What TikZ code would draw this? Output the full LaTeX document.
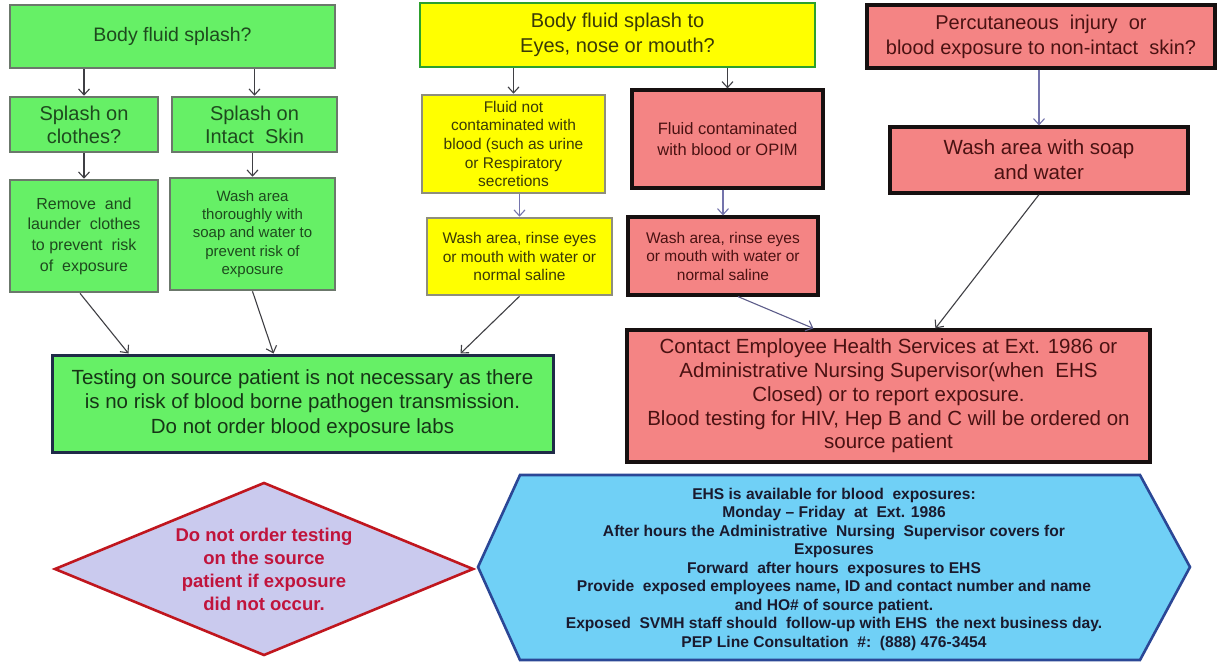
\documentclass[tikz,border=0pt]{standalone}
\usepackage{fontspec}
\setmainfont{Liberation Sans}
\usetikzlibrary{arrows.meta,calc}

\definecolor{gfill}{HTML}{66F066}
\definecolor{gedge}{HTML}{6B786B}
\definecolor{gtext}{HTML}{1E4A1E}
\definecolor{ttext}{HTML}{163516}
\definecolor{navy}{HTML}{1F2B47}
\definecolor{yfill}{HTML}{FFFF00}
\definecolor{yedge}{HTML}{8E8E7C}
\definecolor{ytop}{HTML}{2DA02D}
\definecolor{ytext}{HTML}{3A3A08}
\definecolor{rfill}{HTML}{F48484}
\definecolor{redge}{HTML}{161010}
\definecolor{rtext}{HTML}{4A1212}
\definecolor{dfill}{HTML}{CACAEE}
\definecolor{dedge}{HTML}{C0161E}
\definecolor{dtext}{HTML}{C0143C}
\definecolor{hfill}{HTML}{70D0F6}
\definecolor{hedge}{HTML}{2B4796}
\definecolor{htext}{HTML}{1A1A2E}
\definecolor{arrdark}{HTML}{3F3F44}
\definecolor{arrblue}{HTML}{7474AC}

\begin{document}
\begin{tikzpicture}[x=1pt,y=-1pt,
  every node/.style={inner sep=0pt, align=center},
  fsz/.style 2 args={font=\fontsize{#1}{#2}\selectfont},
  bfsz/.style 2 args={font=\fontsize{#1}{#2}\selectfont\bfseries},
  box/.style={rectangle, line width=2.6pt},
  gbox/.style={box, draw=gedge, fill=gfill, text=gtext},
  ybox/.style={box, draw=yedge, fill=yfill, text=ytext},
  rbox/.style={box, line width=3.2pt, draw=redge, fill=rfill, text=rtext},
  arr/.style={-{Straight Barb[length=6pt,width=11pt]}, line width=1.1pt, draw=arrdark},
  barr/.style={arr, draw=arrblue},
]
\useasboundingbox[fill=white] (0,0) rectangle (1219,662);

% --- general body fluid splash branch
\node[gbox, minimum width=325, minimum height=63, fsz={19.5}{24}] (bfs) at (172.5,36.5) {Body fluid splash?};
\node[gbox, minimum width=148, minimum height=55, fsz={20}{23}] (soc) at (84,124.5) {Splash on\\clothes?};
\node[gbox, minimum width=165, minimum height=55, fsz={20}{23}] (sis) at (254.5,124.5) {Splash on\\Intact\ \ Skin};
\node[gbox, minimum width=148, minimum height=112, fsz={16}{20.7}] (rem) at (84,236)
  {Remove\ \ and\\launder\ \ clothes\\to prevent\ \ risk\\of\ \ exposure};
\node[gbox, minimum width=165, minimum height=112, fsz={15}{18.3}] (wat) at (252.5,234)
  {Wash area\\thoroughly with\\soap and water to\\prevent risk of\\exposure};

% --- eyes, nose or mouth branch
\node[box, draw=ytop, fill=yfill, text=ytext, minimum width=395, minimum height=64, fsz={20}{25}] (ye) at (617.5,35)
  {Body fluid splash to\\Eyes, nose or mouth?};
\node[ybox, minimum width=183, minimum height=98, fsz={15.5}{18.7}] (fnc) at (513.5,144)
  {Fluid not\\contaminated with\\blood (such as urine\\or Respiratory\\secretions};
\node[rbox, minimum width=191, minimum height=98, fsz={16.5}{21}] (fc) at (727.5,139)
  {Fluid contaminated\\with blood or OPIM};
\node[ybox, minimum width=185, minimum height=77, fsz={15.5}{18.5}] (yw) at (519.5,256.5)
  {Wash area, rinse eyes\\or mouth with water or\\normal saline};
\node[rbox, minimum width=190, minimum height=78, fsz={15.5}{18.5}] (rw) at (723,256)
  {Wash area, rinse eyes\\or mouth with water or\\normal saline};

% --- percutaneous branch
\node[rbox, minimum width=348, minimum height=63, fsz={20}{25}] (pi) at (1041,36.5)
  {Percutaneous\ \ injury\ \ or\\blood exposure to non-intact\ \ skin?};
\node[rbox, minimum width=298, minimum height=66, fsz={20.5}{25}] (ws) at (1039,160)
  {Wash area with soap\\and water};

% --- outcomes
\node[gbox, draw=navy, line width=3pt, text=ttext, minimum width=501, minimum height=97, fsz={20.5}{24.5}] (test) at (302.5,403.5)
  {Testing on source patient is not necessary as there\\is no risk of blood borne pathogen transmission.\\Do not order blood exposure labs};
\node[rbox, minimum width=523, minimum height=132, fsz={20.5}{23.8}] (contact) at (888.5,396)
  {Contact Employee Health Services at Ext. 1986 or\\Administrative Nursing Supervisor(when\ \ EHS\\Closed) or to report exposure.\\Blood testing for HIV, Hep B and C will be ordered on\\source patient};

% --- diamond note
\coordinate (dc) at (264,569);
\path[fill=dfill, draw=dedge, line width=2.6pt]
  ($(dc)+(-209,0)$) -- ($(dc)+(0,-86)$) -- ($(dc)+(209,0)$) -- ($(dc)+(0,86)$) -- cycle;
\node[text=dtext, bfsz={18.5}{23}] (dtxt) at (dc)
  {Do not order testing\\on the source\\patient if exposure\\did not occur.};

% --- hexagon with EHS availability
\coordinate (hc) at (834,567);
\path[fill=hfill, draw=hedge, line width=2.6pt]
  ($(hc)+(-356,0)$) -- ($(hc)+(-314,-92)$) -- ($(hc)+(306,-92)$) -- ($(hc)+(356,0)$)
  -- ($(hc)+(306,93)$) -- ($(hc)+(-314,93)$) -- cycle;
\node[text=htext, bfsz={15.6}{18.5}] (htxt) at ($(hc)+(0,2)$)
  {EHS is available for blood\ \ exposures:\\Monday -- Friday\ \ at\ \ Ext. 1986\\After hours the Administrative\ \ Nursing\ \ Supervisor covers for\\Exposures\\Forward\ \ after hours\ \ exposures to EHS\\Provide\ \ exposed employees name, ID and contact number and name\\and HO\# of source patient.\\Exposed\ \ SVMH staff should\ \ follow-up with EHS\ \ the next business day.\\PEP Line Consultation\ \ \#:\ \ (888) 476-3454};

% --- connectors
\draw[arr] (bfs.south -| soc.north) -- (soc.north);
\draw[arr] (bfs.south -| sis.north) -- (sis.north);
\draw[arr] (soc.south) -- (rem.north);
\draw[arr] (sis.south -| wat.north) -- (wat.north);
\draw[arr] (ye.south -| fnc.north) -- (fnc.north);
\draw[arr] (ye.south -| fc.north) -- (fc.north);
\draw[barr] (fnc.south -| yw.north) -- (yw.north);
\draw[barr] (fc.south -| rw.north) -- (rw.north);
\draw[barr] (pi.south -| ws.north) -- (ws.north);
\draw[arr] ($(rem.south)+(-4,0)$) -- ($(test.north west)+(78,0)$);
\draw[arr] (wat.south) -- ($(test.north west)+(223,0)$);
\draw[arr] (yw.south) -- ($(test.north west)+(410,0)$);
\draw[barr, draw=arrblue!80!black] ($(rw.south)+(15,0)$) -- ($(contact.north west)+(188,0)$);
\draw[arr] (ws.south) -- ($(contact.north west)+(310,0)$);
\end{tikzpicture}
\end{document}
